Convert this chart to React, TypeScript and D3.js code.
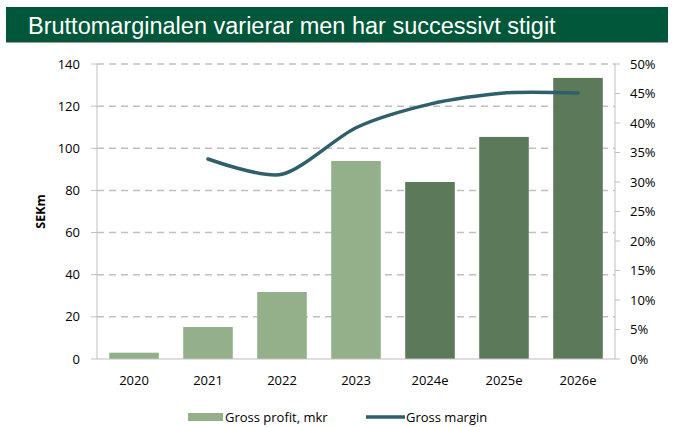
import React from "react";
import * as d3 from "d3";

const years = ["2020", "2021", "2022", "2023", "2024e", "2025e", "2026e"];
const grossProfit = [3, 15.2, 31.8, 94, 84, 105.4, 133.4];
const marginYears = ["2021", "2022", "2023", "2024e", "2025e", "2026e"];
const grossMargin = [0.339, 0.313, 0.392, 0.432, 0.451, 0.451];
const forecast = [false, false, false, false, true, true, true];
const leftTicks = [0, 20, 40, 60, 80, 100, 120, 140];
const rightTicks = [0, 0.05, 0.1, 0.15, 0.2, 0.25, 0.3, 0.35, 0.4, 0.45, 0.5];

const W = 675;
const H = 427;
const font = "'Open Sans', 'Liberation Sans', sans-serif";

export default function App() {
  const left = 97, right = 615, top = 64, bottom = 359;

  const x = d3.scaleBand().domain(years).range([left, right]).paddingInner(0.33).paddingOuter(0.165);
  const y = d3.scaleLinear().domain([0, 140]).range([bottom, top]);
  const y2 = d3.scaleLinear().domain([0, 0.5]).range([bottom, top]);

  const line = d3
    .line<number>()
    .x((d, i) => (x(marginYears[i]) as number) + x.bandwidth() / 2)
    .y((d) => y2(d))
    .curve(d3.curveCardinal.tension(0.2));

  const pct = d3.format(".0%");

  return (
    <svg width={W} height={H} style={{ position: "absolute", left: 0, top: 0, background: "#fff" }}>
      {/* title banner */}
      <rect x={6} y={7} width={662} height={35} fill="#00573a" />
      <rect x={6} y={41} width={662} height={1.5} fill="#1f4a35" />
      <text x={28} y={34} fill="#fff" fontSize={23.5} fontFamily="'Liberation Sans', Arial, sans-serif">
        Bruttomarginalen varierar men har successivt stigit
      </text>

      {/* gridlines */}
      {leftTicks.slice(1).map((t) => (
        <line key={t} x1={left} x2={right} y1={y(t)} y2={y(t)} stroke="#c0c0c0" strokeWidth={1.5} strokeDasharray="7,5" />
      ))}

      {/* bars */}
      {years.map((yr, i) => (
        <rect
          key={yr}
          x={x(yr)}
          y={y(grossProfit[i])}
          width={x.bandwidth()}
          height={bottom - y(grossProfit[i])}
          fill={forecast[i] ? "#5c7a5a" : "#93b08a"}
        />
      ))}

      {/* axes */}
      <line x1={left} x2={left} y1={top} y2={bottom} stroke="#c0c0c0" />
      <line x1={right} x2={right} y1={top} y2={bottom} stroke="#c0c0c0" />
      <line x1={left} x2={right} y1={bottom} y2={bottom} stroke="#c0c0c0" />
      {leftTicks.map((t) => (
        <g key={t}>
          <line x1={left - 6} x2={left} y1={y(t)} y2={y(t)} stroke="#c0c0c0" />
          <text x={80} y={y(t) + 4.5} textAnchor="end" fontSize={13} fontFamily={font} fill="#000">
            {t}
          </text>
        </g>
      ))}
      {rightTicks.map((t) => (
        <g key={t}>
          <line x1={right} x2={right + 5} y1={y2(t)} y2={y2(t)} stroke="#c0c0c0" />
          <text x={630} y={y2(t) + 4.5} fontSize={13} fontFamily={font} fill="#000">
            {pct(t)}
          </text>
        </g>
      ))}
      {years.map((yr) => (
        <text
          key={yr}
          x={(x(yr) as number) + x.bandwidth() / 2}
          y={385}
          textAnchor="middle"
          fontSize={13}
          fontFamily={font}
          fill="#000"
        >
          {yr}
        </text>
      ))}
      <text
        transform={`translate(45,${(top + bottom) / 2}) rotate(-90)`}
        textAnchor="middle"
        fontSize={12.5}
        fontWeight="bold"
        fontFamily={font}
        fill="#000"
      >
        SEKm
      </text>

      {/* margin line */}
      <path d={line(grossMargin) || ""} fill="none" stroke="#2f5f6b" strokeWidth={3.5} strokeLinecap="round" />

      {/* legend */}
      <rect x={188} y={413} width={35} height={8} fill="#93b08a" />
      <text x={225} y={422} fontSize={13} fontFamily={font} fill="#000">
        Gross profit, mkr
      </text>
      <line x1={366} x2={405} y1={417} y2={417} stroke="#2f5f6b" strokeWidth={3.5} />
      <text x={406} y={422} fontSize={13} fontFamily={font} fill="#000">
        Gross margin
      </text>
    </svg>
  );
}
